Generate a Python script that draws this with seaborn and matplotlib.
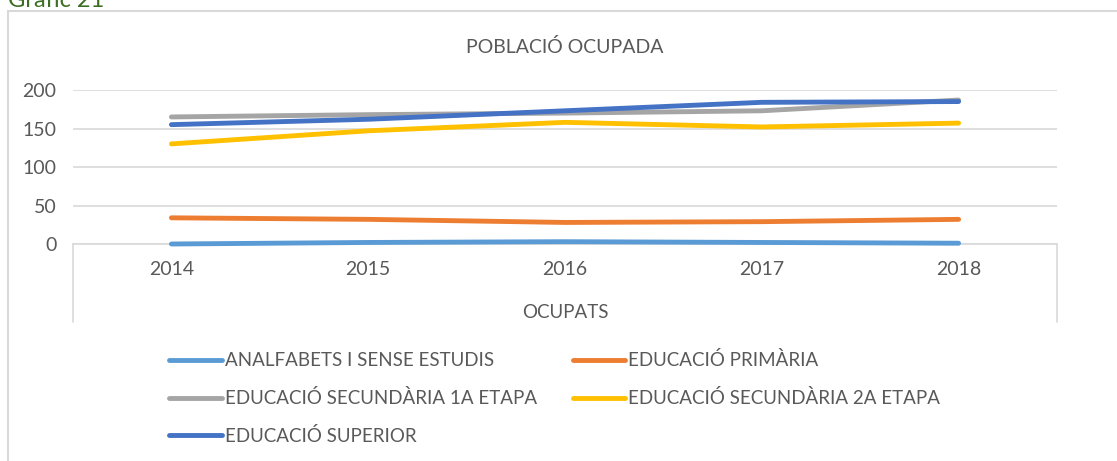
import pandas as pd
import matplotlib.pyplot as plt
import seaborn as sns
from matplotlib.patches import Rectangle

# Data
years = [2014, 2015, 2016, 2017, 2018]
analfabets = [0, 2, 3, 2, 1]
primaria = [34, 32, 28, 29, 32]
secundaria_1a = [165, 168, 170, 173, 187]
secundaria_2a = [130, 147, 158, 152, 157]
superior = [155, 162, 173, 184, 185]

labels = ['ANALFABETS I SENSE ESTUDIS', 'EDUCACIÓ PRIMÀRIA',
          'EDUCACIÓ SECUNDÀRIA 1A ETAPA', 'EDUCACIÓ SECUNDÀRIA 2A ETAPA',
          'EDUCACIÓ SUPERIOR']
colors = ['#5B9BD5', '#ED7D31', '#A5A5A5', '#FFC000', '#4472C4']

series = [analfabets, primaria, secundaria_1a, secundaria_2a, superior]
df = pd.DataFrame([
    {'any': y, 'valor': v, 'nivell': lab}
    for lab, vals in zip(labels, series)
    for y, v in zip(years, vals)
])

sns.set_theme(style='white')
plt.rcParams['font.family'] = ['Lato', 'DejaVu Sans']
TXT = '#595959'

W, H = 1117, 461
fig = plt.figure(figsize=(W / 100, H / 100), dpi=100)
ax = fig.add_axes([73 / W, 1 - 244 / H, (1057 - 73) / W, 154 / H])

sns.lineplot(data=df, x='any', y='valor', hue='nivell', hue_order=labels,
             palette=colors, linewidth=3.5, ax=ax, legend=True,
             solid_capstyle='round', zorder=3, clip_on=False)

ax.set_xlim(2013.5, 2018.5)
ax.set_ylim(0, 200)
ax.set_xticks(years)
ax.set_xticklabels([str(y) for y in years])
ax.set_yticks([0, 50, 100, 150, 200])
ax.grid(axis='y', color='#D9D9D9', linewidth=1.2)
ax.set_axisbelow(True)
for s in ['top', 'right', 'left']:
    ax.spines[s].set_visible(False)
ax.spines['bottom'].set_color('#D9D9D9')
ax.spines['bottom'].set_linewidth(1.2)
ax.spines['bottom'].set_zorder(1)
ax.tick_params(axis='x', length=0, pad=12, labelsize=14, labelcolor=TXT)
ax.tick_params(axis='y', length=0, pad=12, labelsize=14, labelcolor=TXT)

# category boundary lines below the axis
for xa in (0, 1):
    ax.plot([xa, xa], [0, -78 / 154], transform=ax.transAxes, clip_on=False,
            color='#D9D9D9', linewidth=1.2)

ax.set_xlabel('OCUPATS', fontsize=13.5, color=TXT, labelpad=19)
ax.set_ylabel('')
ax.set_title('POBLACIÓ OCUPADA', fontsize=14, color=TXT, pad=27)

handles, labs = ax.get_legend_handles_labels()
ax.get_legend().remove()
order = [0, 2, 4, 1, 3]
fig.legend([handles[i] for i in order], [labs[i] for i in order],
           ncol=2, loc='upper left', bbox_to_anchor=(160 / W, 1 - 342 / H),
           frameon=False, fontsize=13.5, labelcolor=TXT, handlelength=2.8,
           handletextpad=0.16, columnspacing=1.9, labelspacing=1.05,
           borderpad=0)

# outer frame and caption
fig.patches.append(Rectangle((8 / W, -0.05), 1.2, 1 - 11 / H + 0.05,
                             transform=fig.transFigure, fill=False,
                             edgecolor='#D9D9D9', linewidth=1.5))
fig.text(8 / W, 1 - 7 / H, 'Gràfic 21', fontsize=17, color='#3B6E22',
         va='baseline', ha='left')

fig.savefig('out.png', dpi=100)
